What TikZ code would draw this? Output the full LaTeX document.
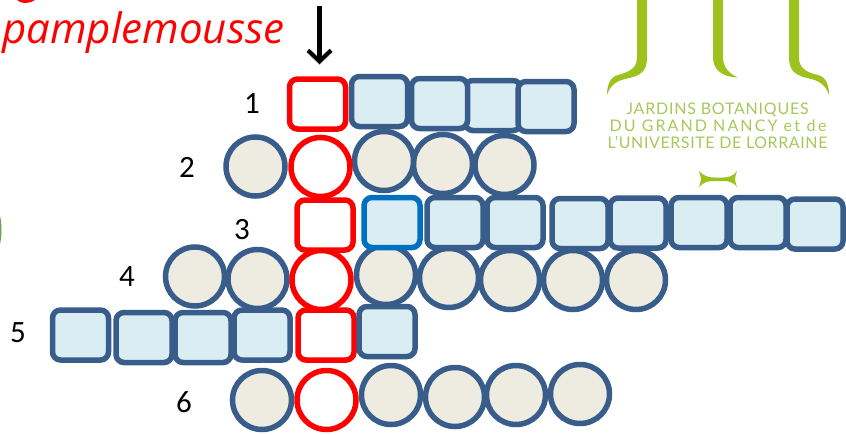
\documentclass[tikz,border=0pt]{standalone}
\usepackage{fontspec}
\setmainfont{Carlito}
\newfontfamily\logofonta[LetterSpace=4.8]{Lato}
\newfontfamily\logofontb[LetterSpace=13]{Lato}
\newfontfamily\logofontc[LetterSpace=3.7]{Lato}
\newfontfamily\logofontd[LetterSpace=15]{Lato}
\newfontfamily\titlefont{Open Sans}
\usetikzlibrary{arrows.meta}
\definecolor{sqfill}{HTML}{DAEDF3}
\definecolor{cfill}{HTML}{EEECE1}
\definecolor{edgeblue}{HTML}{385D8A}
\definecolor{brightblue}{HTML}{0070C0}
\definecolor{logogreen}{HTML}{9DC21E}
\definecolor{logotext}{HTML}{A9C75A}
\definecolor{edgegreen}{HTML}{6FA050}
\tikzset{
  sqbase/.style={rectangle,rounded corners=8pt,minimum width=56pt,minimum height=50pt,inner sep=0pt,line width=5.5pt},
  cbase/.style={circle,minimum size=59pt,inner sep=0pt,line width=5.5pt},
  bsq/.style={sqbase,draw=edgeblue,fill=sqfill},
  vsq/.style={sqbase,draw=brightblue,fill=sqfill},
  rsq/.style={sqbase,draw=red,fill=white},
  bcirc/.style={cbase,draw=edgeblue,fill=cfill},
  rcirc/.style={cbase,draw=red,fill=white},
  rownum/.style={font=\fontsize{31}{31}\selectfont,inner sep=0pt,text=black},
  logoline/.style={inner sep=0pt,text=logotext,anchor=base},
  logoshape/.style={fill=logogreen,draw=none}
}
\begin{document}
\begin{tikzpicture}[x=1pt,y=-1pt]
\useasboundingbox (0,0) rectangle (846,434);
% title
\node[font=\titlefont\itshape\fontsize{42}{42}\selectfont,text=red,inner sep=0pt,anchor=base west] (title) at (2,43) {pamplemousse};
\fill[red] (17,0) .. controls (21,4) and (29,4) .. (35,0) -- cycle;
% left edge fragment
\fill[edgegreen] (0,216) .. controls (2,224) and (2,236) .. (0,244) -- cycle;
% arrow
\coordinate (arrowtop) at (319.5,6);
\coordinate (arrowtip) at (319.5,64);
\draw[black!30,line width=5.5pt,-{Straight Barb[length=11pt,width=23pt,line width=4pt]}] ([yshift=-1pt]arrowtop) -- ([yshift=-1pt]arrowtip);
\draw[black,line width=5pt,-{Straight Barb[length=11pt,width=23pt,line width=4pt]}] (arrowtop) -- (arrowtip);
% logo
\path[logoshape] (637,0) -- (637,58) .. controls (637,70) and (625,73) .. (618,75) .. controls (610,77) and (607,85) .. (607,95) .. controls (610,86) and (616,81) .. (625,79) .. controls (640,76) and (647,72) .. (647,58) -- (647,0) -- cycle;
\path[logoshape] (713,0) -- (713,57) .. controls (713,70) and (722,77) .. (738,77.5) .. controls (730,74) and (723,68) .. (723,57) -- (723,0) -- cycle;
\path[logoshape] (789,0) -- (789,58) .. controls (789,72) and (797,76) .. (811,79) .. controls (820,81) and (826,86) .. (829,95) .. controls (829,85) and (826,77) .. (818,75) .. controls (810,73) and (799,70) .. (799,58) -- (799,0) -- cycle;
\node[logoline,font=\logofonta\fontsize{16}{16}\selectfont] (logoa) at (717.5,114.5) {JARDINS BOTANIQUES};
\node[logoline,font=\logofontb\fontsize{16}{16}\selectfont] (logob) at (718,131.5) {DU GRAND NANCY {\logofontd et de}};
\node[logoline,font=\logofontc\fontsize{16}{16}\selectfont] (logoc) at (717.5,148.5) {L’UNIVERSITE DE LORRAINE};
\path[logoshape] (699,171) .. controls (704,176) and (708,177.5) .. (714,177.5) -- (723,177.5) .. controls (729,177.5) and (733,176) .. (737,171) .. controls (736,175) and (735,177) .. (735,179) .. controls (735,181) and (736,184) .. (737,187) .. controls (733,182) and (729,181) .. (723,181) -- (714,181) .. controls (708,181) and (704,182) .. (699,187) .. controls (700,184) and (701,181) .. (701,179) .. controls (701,177) and (700,175) .. (699,171) -- cycle;
% row numbers
\node[rownum] (n1) at (252,104) {1};
\node[rownum] (n2) at (187,167) {2};
\node[rownum] (n3) at (242,230) {3};
\node[rownum] (n4) at (127,277) {4};
\node[rownum] (n5) at (18,333) {5};
\node[rownum] (n6) at (184,402) {6};
% row 2
\node[bcirc] (b2a) at (255.5,166.5) {};
\node[bcirc] (b2d) at (504.5,165) {};
\node[bcirc] (b2c) at (443,164) {};
\node[bcirc] (b2b) at (384,161) {};
\node[rcirc] (r2) at (320.5,167) {};
% row 1
\node[rsq] (r1) at (317.5,104) {};
\node[bsq] (b1c) at (493,105.5) {};
\node[bsq] (b1a) at (379.5,101.5) {};
\node[bsq] (b1b) at (439.5,103.5) {};
\node[bsq] (b1d) at (546,106.5) {};
% row 4
\node[bcirc] (b4a) at (195,276.5) {};
\node[bcirc] (b4b) at (257.5,279) {};
\node[rcirc] (r4) at (321.5,280) {};
\node[bcirc] (b4g) at (636,280) {};
\node[bcirc] (b4f) at (573,280) {};
\node[bcirc] (b4e) at (510,280) {};
\node[bcirc] (b4d) at (449,278) {};
\node[bcirc] (b4c) at (386,275) {};
% row 3
\node[rsq] (r3) at (325,225) {};
\node[bsq] (b3b) at (455,222.5) {};
\node[bsq] (b3c) at (515,222.5) {};
\node[vsq] (b3a) at (392,222.5) {};
\node[bsq] (b3d) at (580,223.5) {};
\node[bsq] (b3e) at (638,223) {};
\node[bsq] (b3f) at (699,222.5) {};
\node[bsq] (b3g) at (758,222.5) {};
\node[bsq] (b3h) at (815,224) {};
% row 5
\node[bsq] (b5a) at (80.5,335) {};
\node[bsq] (b5b) at (144,337.5) {};
\node[bsq] (b5d) at (262,335) {};
\node[bsq] (b5c) at (203,337.5) {};
\node[rsq] (r5) at (326,335) {};
\node[bsq] (b5e) at (387,331.5) {};
% row 6
\node[bcirc] (b6a) at (262,400) {};
\node[rcirc] (r6) at (326.5,400) {};
\node[bcirc] (b6b) at (391,395) {};
\node[bcirc] (b6c) at (455,397) {};
\node[bcirc] (b6d) at (516,395) {};
\node[bcirc] (b6e) at (580,394) {};
\end{tikzpicture}
\end{document}
